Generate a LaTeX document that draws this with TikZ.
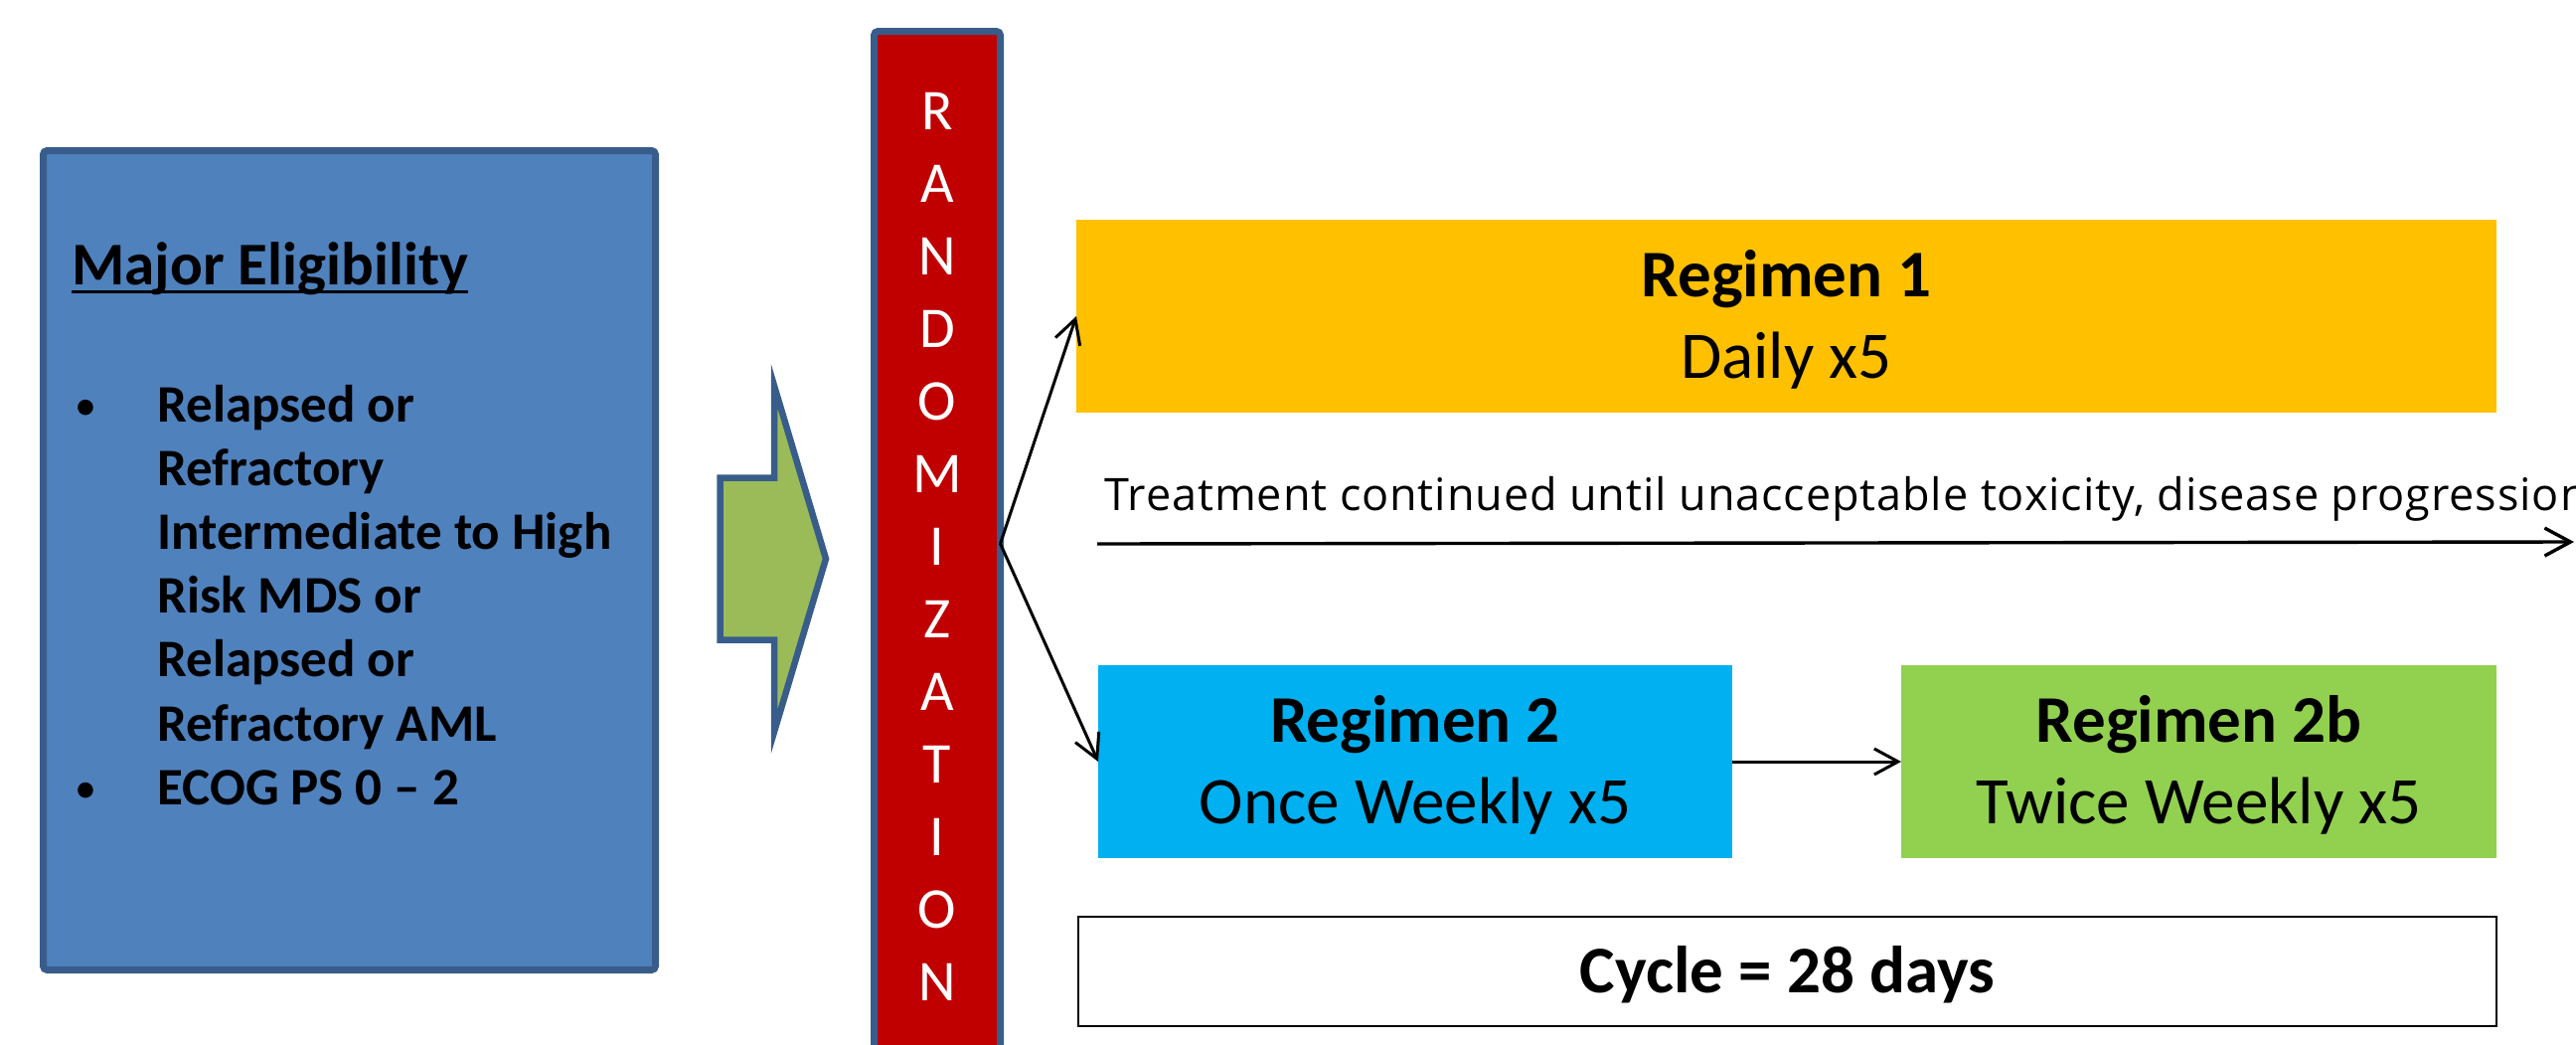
\documentclass[tikz,border=0pt]{standalone}
\usepackage{fontspec}
\setmainfont{Carlito}
\newfontfamily\notefont[LetterSpace=2]{Open Sans}
\usetikzlibrary{arrows.meta,calc}

% underline drawn close under the baseline, crossing the descenders
\newcommand\myuline[1]{\setbox0\hbox{#1}\rlap{\rule[-4.5pt]{\wd0}{1.5pt}}\box0}

\definecolor{eligfill}{HTML}{4F81BD}
\definecolor{shapeline}{HTML}{385D8A}
\definecolor{randred}{HTML}{C00000}
\definecolor{arrowgreen}{HTML}{9BBB59}
\definecolor{regyellow}{HTML}{FFC000}
\definecolor{regcyan}{HTML}{00B0F0}
\definecolor{reggreen}{HTML}{92D050}

\tikzset{
  plainbox/.style={rectangle, inner sep=0pt, outer sep=0pt},
  regbox/.style={plainbox, minimum height=97pt},
  conn/.style={draw=black, line width=1.5pt, -{Straight Barb[length=12pt,width=13pt]}},
  eligtext/.style={anchor=base west, inner sep=0pt, font=\fontsize{26.5}{32}\selectfont\bfseries},
  bulletmark/.style={anchor=base west, inner sep=0pt, font=\fontsize{22}{32}\selectfont},
  randletter/.style={anchor=base, inner sep=0pt, text=white, font=\fontsize{29}{35}\selectfont},
  regtitle/.style={anchor=base, inner sep=0pt, font=\fontsize{33.5}{40}\selectfont\bfseries},
  regsub/.style={anchor=base, inner sep=0pt, font=\fontsize{33.5}{40}\selectfont},
}

\begin{document}
\begin{tikzpicture}[x=0.5pt, y=-0.5pt]
\useasboundingbox (0,0) rectangle (2592,1050);
\clip (0,0) rectangle (2592,1050);
\fill[white] (0,0) rectangle (2592,1050);

% eligibility panel
\node[plainbox, draw=shapeline, fill=eligfill, line width=3.5pt, rounded corners=2pt,
      minimum width=308pt, minimum height=412pt] (elig) at (351.5,563.5) {};
\node[anchor=base west, inner sep=0pt, font=\fontsize{30.5}{36}\selectfont\bfseries]
  (eligtitle) at (72,286) {\myuline{Major Eligibility}};
\node[bulletmark] (bul1) at (75,422) {•};
\node[eligtext] (it1a) at (158,424) {Relapsed or};
\node[eligtext] (it1b) at (158,488.2) {Refractory};
\node[eligtext] (it1c) at (158,552.4) {Intermediate to High};
\node[eligtext] (it1d) at (158,616.6) {Risk MDS or};
\node[eligtext] (it1e) at (158,680.8) {Relapsed or};
\node[eligtext] (it1f) at (158,745) {Refractory AML};
\node[bulletmark] (bul2) at (75,807.2) {•};
\node[eligtext] (it2) at (158,809.2) {ECOG PS 0 – 2};

% block arrow into randomization
\draw[shapeline, fill=arrowgreen, line width=3.25pt, line join=miter]
  (724.5,480.5) -- (779,480.5) -- (779,388) -- (831,562) -- (779,736)
  -- (779,643.5) -- (724.5,643.5) -- cycle;

% randomization bar
\node[plainbox, draw=shapeline, fill=randred, line width=3.5pt, rounded corners=2pt,
      minimum width=63.5pt, minimum height=515.25pt] (rand) at (943,546.75) {};
\foreach \ch [count=\i from 0] in {R,A,N,D,O,M,I,Z,A,T,I,O,N}
  \node[randletter] (rl\i) at (943,{130+73*\i}) {\ch};

% regimen boxes
\node[regbox, fill=regyellow, minimum width=714.5pt] (reg1) at (1797.5,318) {};
\node[regtitle] (reg1t) at ($(reg1.center)+(0,-20)$) {Regimen 1};
\node[regsub]   (reg1s) at ($(reg1.center)+(0,62)$) {Daily x5};

\node[regbox, fill=regcyan, minimum width=319pt] (reg2) at (1424,766) {};
\node[regtitle] (reg2t) at ($(reg2.center)+(0,-20)$) {Regimen 2};
\node[regsub]   (reg2s) at ($(reg2.center)+(0,62)$) {Once Weekly x5};

\node[regbox, fill=reggreen, minimum width=299.5pt] (reg2b) at (2212.5,766) {};
\node[regtitle] (reg2bt) at ($(reg2b.center)+(0,-20)$) {Regimen 2b};
\node[regsub]   (reg2bs) at ($(reg2b.center)+(0,62)$) {Twice Weekly x5};

% cycle length
\node[plainbox, draw=black, line width=1pt, minimum width=713.5pt, minimum height=55pt]
  (cycle) at (1798.5,977) {};
\node[regtitle] (cyclet) at ($(cycle.center)+(0,21)$) {Cycle = 28 days};

% randomization branches
\draw[conn] (rand.east) -- (reg1.west);
\draw[conn] (rand.east) -- (reg2.west);
\draw[conn] (reg2.east) -- (reg2b.west);

% treatment duration
\node[anchor=base west, inner sep=0pt, font=\fontsize{22.5}{28}\notefont]
  (duration) at (1111,513) {Treatment continued until unacceptable toxicity, disease progression};
\coordinate (tlstart) at (1104,547);
\coordinate (tlend) at (2590,545);
\draw[line width=1.7pt, -{Straight Barb[length=13pt,width=14pt]}] (tlstart) -- (tlend);
\end{tikzpicture}
\end{document}
